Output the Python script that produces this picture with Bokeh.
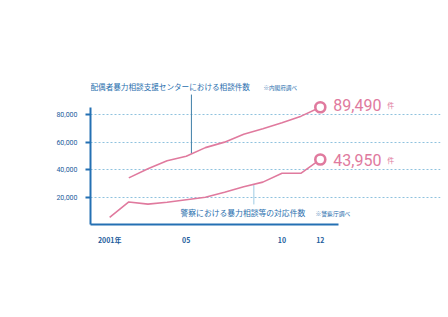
import numpy as np
from bokeh.plotting import figure
from bokeh.models import Range1d, FixedTicker, NumeralTickFormatter
from bokeh.core.properties import value
from bokeh.embed import file_html
from bokeh.resources import INLINE

# ---- data ----
center_years = [2002, 2003, 2004, 2005, 2006, 2007, 2008, 2009, 2010, 2011, 2012]
center_vals = [33900, 40600, 46400, 49700, 55900, 59900, 65700, 69700, 74000, 78800, 85300]
police_years = [2001, 2002, 2003, 2004, 2005, 2006, 2007, 2008, 2009, 2010, 2011, 2012]
police_vals = [5100, 16400, 14800, 16200, 18000, 19800, 23500, 27500, 30800, 37300, 37300, 47300]
end_labels = ["89,490", "43,950"]
unit_label = "件"
center_title = "配偶者暴力相談支援センターにおける相談件数"
center_note = "※内閣府調べ"
police_title = "警察における暴力相談等の対応件数"
police_note = "※警察庁調べ"
x_ticks = [2001, 2005, 2010, 2012]
x_tick_labels = ["2001年", "05", "10", "12"]
y_ticks = [20000, 40000, 60000, 80000]

PINK = "#e07a9e"
BLUE = "#2470b3"
DBLUE = "#1d5c9c"
LBLUE = "#8fc2de"
JP = value("Noto Sans CJK JP")
NUM = value("Roboto")

PX_PER_YEAR = 19.15
VAL_PER_PX = 20000 / 27.5
W, H = 448, 317
LEFT, RIGHT, TOP, BOTTOM = 90, 8, 30, 93
fw = W - LEFT - RIGHT
fh = H - TOP - BOTTOM

p = figure(width=W, height=H, output_backend="svg", toolbar_location=None,
           x_range=Range1d(2000, 2000 + fw / PX_PER_YEAR),
           y_range=Range1d(0, fh * VAL_PER_PX),
           min_border_left=LEFT, min_border_right=RIGHT,
           min_border_top=TOP, min_border_bottom=BOTTOM)
p.outline_line_color = None
p.background_fill_color = "white"
p.border_fill_color = "white"

x_end = 2012.95
y_end = 85300

# y axis
ya = p.yaxis[0]
ya.ticker = FixedTicker(ticks=y_ticks)
ya.formatter = NumeralTickFormatter(format="0,0")
ya.bounds = (0, y_end)
ya.axis_line_color = BLUE
ya.axis_line_width = 2
ya.major_tick_line_color = BLUE
ya.major_tick_line_width = 2
ya.major_tick_out = 5
ya.major_tick_in = 0
ya.minor_tick_line_color = None
ya.major_label_text_font = "Roboto"
ya.major_label_text_font_size = "7px"
ya.major_label_text_color = DBLUE
ya.major_label_standoff = 8

# x axis
xa = p.xaxis[0]
xa.ticker = FixedTicker(ticks=x_ticks)
xa.major_label_overrides = {t: l for t, l in zip(x_ticks, x_tick_labels)}
xa.bounds = (2000, x_end)
xa.axis_line_color = BLUE
xa.axis_line_width = 2
xa.major_tick_line_color = None
xa.minor_tick_line_color = None
xa.major_label_text_font = "Noto Sans CJK JP"
xa.major_label_text_font_size = "7px"
xa.major_label_text_font_style = "bold"
xa.major_label_text_color = DBLUE
xa.major_label_standoff = 4

# grid
p.xgrid.visible = False
p.ygrid.ticker = FixedTicker(ticks=y_ticks)
p.ygrid.grid_line_color = LBLUE
p.ygrid.grid_line_dash = "2 2"
p.ygrid.grid_line_width = 1
p.ygrid.bounds = (2000, x_end)

# leader lines
up_x = 2005.27
low_x = 2008.53
up_y0 = float(np.interp(up_x, center_years, center_vals))
low_y0 = float(np.interp(low_x, police_years, police_vals))
p.segment(x0=[up_x], y0=[up_y0], x1=[up_x], y1=[94500], line_color="#3f7fa8", line_width=1)
p.segment(x0=[low_x], y0=[low_y0], x1=[low_x], y1=[14600], line_color="#9dcbe4", line_width=1)

# series
p.line(center_years, center_vals, line_color=PINK, line_width=1.6)
p.line(police_years, police_vals, line_color=PINK, line_width=1.6)
ends_x = [center_years[-1], police_years[-1]]
ends_y = [center_vals[-1], police_vals[-1]]
p.scatter(x=ends_x, y=ends_y, size=10, marker="circle", fill_color="white",
          line_color=PINK, line_width=2.6)

# end values
p.text(x=ends_x, y=ends_y, text=end_labels, x_offset=13, y_offset=[-2, 1],
       text_font=NUM, text_font_size="16px", text_color=PINK,
       text_baseline="alphabetic", text_align="left")
p.text(x=ends_x, y=ends_y, text=[unit_label, unit_label], x_offset=67, y_offset=[-2, 1],
       text_font=JP, text_font_size="7px", text_color=PINK,
       text_baseline="alphabetic", text_align="left")

# series titles
p.text(x=[2000], y=[100050], text=[center_title], text_font=JP, text_font_size="7.6px",
       text_color="#2a6fae", text_baseline="middle", text_align="left")
p.text(x=[2009.03], y=[99500], text=[center_note], text_font=JP, text_font_size="5.6px",
       text_color="#2a6fae", text_baseline="middle", text_align="left")
p.text(x=[2004.70], y=[8400], text=[police_title], text_font=JP, text_font_size="7.8px",
       text_color="#2a6fae", text_baseline="middle", text_align="left")
p.text(x=[2011.75], y=[8100], text=[police_note], text_font=JP, text_font_size="5.8px",
       text_color="#2a6fae", text_baseline="middle", text_align="left")

open("out.html", "w").write(file_html(p, INLINE))
